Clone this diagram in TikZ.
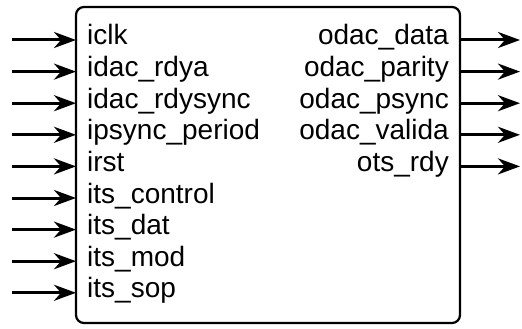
\documentclass[tikz,border=0pt]{standalone}
\usepackage{fontspec}
\setmainfont{Liberation Sans}
\usetikzlibrary{arrows.meta}

\tikzset{
  blockbox/.style={draw, line width=2.2pt, rounded corners=8pt},
  inport/.style={anchor=west, inner xsep=11pt, inner ysep=0pt, text height=18pt, text depth=8pt,
                 font=\fontsize{28}{30}\selectfont},
  outport/.style={anchor=east, inner xsep=11pt, inner ysep=0pt, text height=18pt, text depth=8pt,
                  font=\fontsize{28}{30}\selectfont},
  sig/.style={line width=3pt, -{Stealth[length=22pt,width=16pt,inset=7pt]}}
}

\begin{document}
\begin{tikzpicture}[x=1pt,y=-1pt]
  \useasboundingbox (0,0) rectangle (522,329);
  \draw [blockbox] (76,7) rectangle (460,323);
  % inputs
  \node [inport] (iclk)     at (76,40)    {iclk};
  \node [inport] (irdya)    at (76,71.6)  {idac\_rdya};
  \node [inport] (irdysync) at (76,103.2) {idac\_rdysync};
  \node [inport] (ipsync)   at (76,134.8) {ipsync\_period};
  \node [inport] (irst)     at (76,166.4) {irst};
  \node [inport] (icontrol) at (76,198)   {its\_control};
  \node [inport] (idat)     at (76,229.6) {its\_dat};
  \node [inport] (imod)     at (76,261.2) {its\_mod};
  \node [inport] (isop)     at (76,292.8) {its\_sop};
  \coordinate (iclkin)     at (12,40);
  \coordinate (irdyain)    at (12,71.6);
  \coordinate (irdysyncin) at (12,103.2);
  \coordinate (ipsyncin)   at (12,134.8);
  \coordinate (irstin)     at (12,166.4);
  \coordinate (icontrolin) at (12,198);
  \coordinate (idatin)     at (12,229.6);
  \coordinate (imodin)     at (12,261.2);
  \coordinate (isopin)     at (12,292.8);
  \draw [sig] (iclkin) -- (iclk);
  \draw [sig] (irdyain) -- (irdya);
  \draw [sig] (irdysyncin) -- (irdysync);
  \draw [sig] (ipsyncin) -- (ipsync);
  \draw [sig] (irstin) -- (irst);
  \draw [sig] (icontrolin) -- (icontrol);
  \draw [sig] (idatin) -- (idat);
  \draw [sig] (imodin) -- (imod);
  \draw [sig] (isopin) -- (isop);
  % outputs
  \node [outport] (odata)   at (460,40)    {odac\_data};
  \node [outport] (oparity) at (460,71.6)  {odac\_parity};
  \node [outport] (opsync)  at (460,103.2) {odac\_psync};
  \node [outport] (ovalida) at (460,134.8) {odac\_valida};
  \node [outport] (otsrdy)  at (460,166.4) {ots\_rdy};
  \coordinate (odataout)   at (520,40);
  \coordinate (oparityout) at (520,71.6);
  \coordinate (opsyncout)  at (520,103.2);
  \coordinate (ovalidaout) at (520,134.8);
  \coordinate (otsrdyout)  at (520,166.4);
  \draw [sig] (odata) -- (odataout);
  \draw [sig] (oparity) -- (oparityout);
  \draw [sig] (opsync) -- (opsyncout);
  \draw [sig] (ovalida) -- (ovalidaout);
  \draw [sig] (otsrdy) -- (otsrdyout);
\end{tikzpicture}
\end{document}
